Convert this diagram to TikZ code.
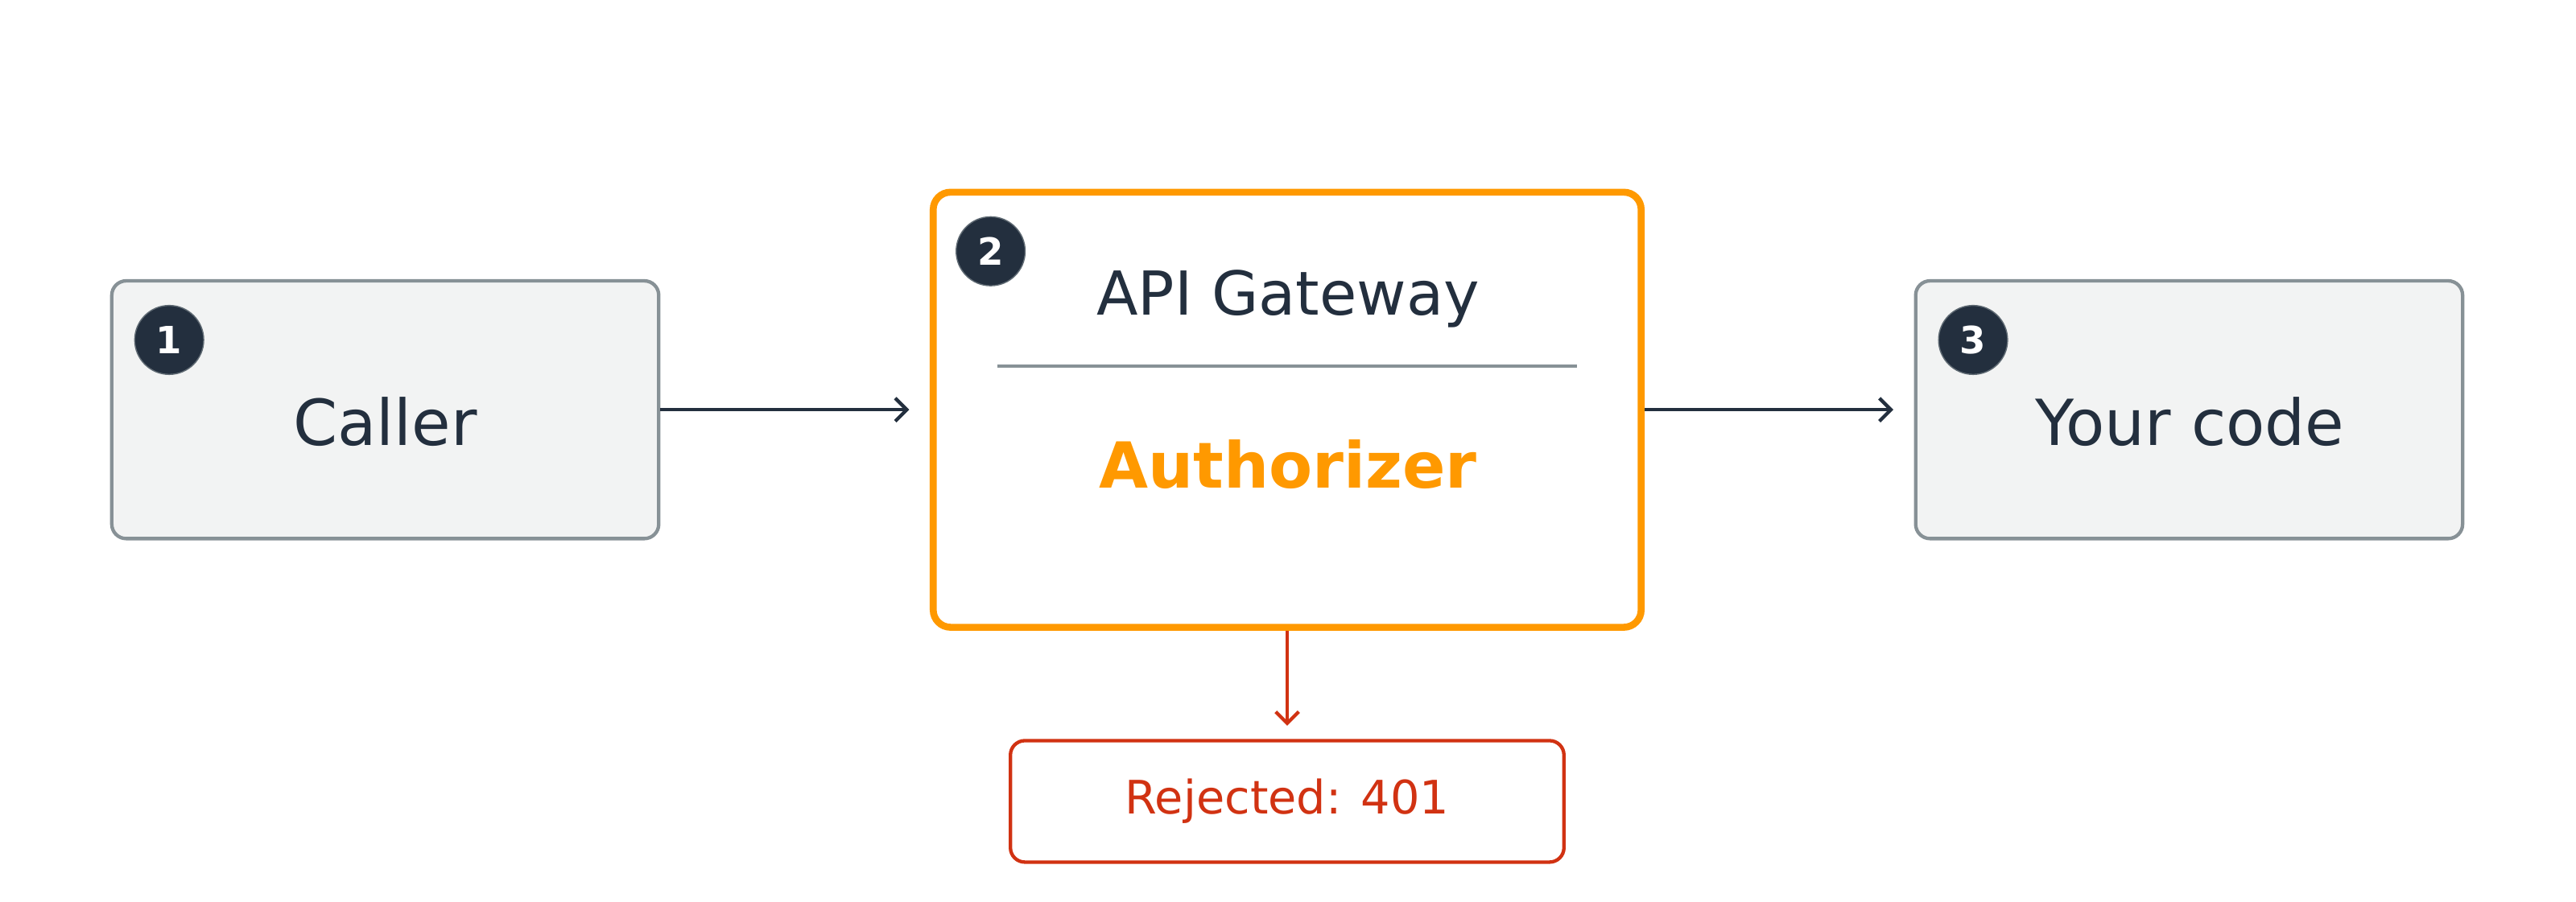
\documentclass[tikz,border=0pt]{standalone}
\usepackage{fontspec}
\setmainfont{DejaVu Sans}
\usetikzlibrary{positioning,arrows.meta}
\definecolor{ink}{HTML}{232F3E}
\definecolor{edge}{HTML}{879196}
\definecolor{pale}{HTML}{F2F3F3}
\definecolor{amber}{HTML}{FF9900}
\definecolor{deny}{HTML}{D13212}
\begin{document}
\begin{tikzpicture}[x=0.02cm,y=-0.02cm]
 \tikzstyle{arrow} = [-{Straight Barb[length=4pt,width=8pt]},line width=1.2pt];
 \tikzstyle{plain} = [draw=edge,fill=pale,line width=1.2pt,rounded corners=5pt,
   minimum width=6.66cm,minimum height=3.14cm,text=ink,font=\fontsize{22}{26}\selectfont];
 \tikzstyle{badge} = [circle,fill=ink,draw=edge!60!ink,minimum size=0.84cm,inner sep=0pt,
   text=white,font=\bfseries\fontsize{13}{15}\selectfont];
 \useasboundingbox (0,0) rectangle (1568,549);

 \node[plain,name=caller] at (234.5,249.5) {};
 \node[text=ink,font=\fontsize{22}{26}\selectfont] at (234.5,257) {Caller};
 \node[badge,name=b1] at (103,207) {1};

 \node[draw=amber,line width=2.4pt,rounded corners=6pt,fill=white,
   minimum width=8.62cm,minimum height=5.3cm,name=gw] at (783.5,249.5) {};
 \node[badge,name=b2] at (603,153) {2};
 \node[text=ink,font=\fontsize{21}{25}\selectfont,name=gwtitle] at (784,182) {API Gateway};
 \coordinate (sepL) at (607,223);
 \coordinate (sepR) at (960,223);
 \draw[edge,line width=1pt] (sepL) -- (sepR);
 \node[text=amber,font=\bfseries\fontsize{22}{26}\selectfont,name=auth] at (784,283) {Authorizer};

 \node[plain,name=code] at (1332.5,249.5) {};
 \node[text=ink,font=\fontsize{22}{26}\selectfont] at (1333,257) {Your code};
 \node[badge,name=b3] at (1201,207) {3};

 \node[draw=deny,line width=1.2pt,rounded corners=5pt,fill=white,minimum width=6.74cm,
   minimum height=1.48cm,text=deny,font=\fontsize{16}{19}\selectfont,name=reject]
   at (783.5,488) {Rejected: 401};

 \draw[arrow,ink] (caller.east) -- ([xshift=-0.25cm]gw.west);
 \draw[arrow,ink] (gw.east) -- ([xshift=-0.25cm]code.west);
 \draw[arrow,deny] (gw.south) -- ([yshift=0.16cm]reject.north);
\end{tikzpicture}
\end{document}
